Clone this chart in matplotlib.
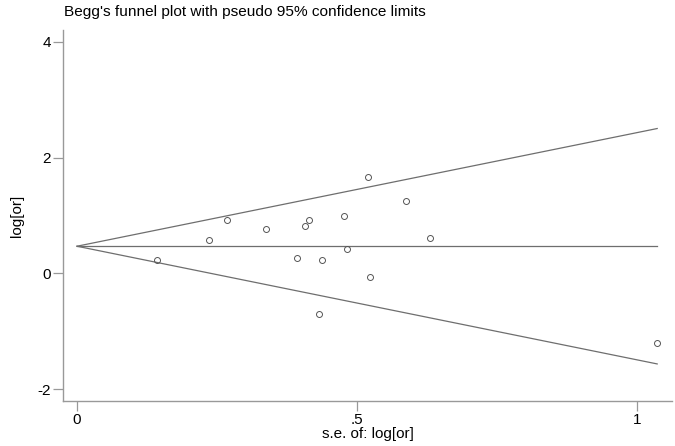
import matplotlib
matplotlib.use("Agg")
import matplotlib.pyplot as plt
import numpy as np

plt.rcParams['font.family'] = ['Liberation Sans', 'DejaVu Sans']
plt.rcParams['axes.unicode_minus'] = False

se = [0.143, 0.236, 0.268, 0.338, 0.392, 0.408, 0.414, 0.433, 0.437,
      0.477, 0.483, 0.520, 0.524, 0.5875, 0.630, 1.036]
logor = [0.23, 0.586, 0.931, 0.759, 0.264, 0.816, 0.92, -0.695, 0.241,
         0.983, 0.419, 1.667, -0.057, 1.253, 0.609, -1.207]
pooled = 0.47
xticks = [0, 0.5, 1]
xticklabels = ['0', '.5', '1']
yticks = [-2, 0, 2, 4]

fig = plt.figure(figsize=(6.75, 4.46), dpi=100)
ax = fig.add_axes([0.0933, 0.1009, 0.9023, 0.8318])

smax = max(se)
xs = np.array([0, smax])
lc = '#6e6e6e'
ax.plot(xs, [pooled, pooled], color=lc, lw=0.9)
ax.plot(xs, pooled + 1.96 * xs, color=lc, lw=0.9)
ax.plot(xs, pooled - 1.96 * xs, color=lc, lw=0.9)
ax.plot(se, logor, 'o', mfc='none', mec='#555555', mew=0.7, ms=4.3, ls='none')

ax.set_xlim(-0.025, 1.0625)
ax.set_ylim(-2.2, 4.2)
ax.set_xticks(xticks)
ax.set_xticklabels(xticklabels)
ax.set_yticks(yticks)
for s in ['top', 'right']:
    ax.spines[s].set_visible(False)
for s in ['left', 'bottom']:
    ax.spines[s].set_color('#999999')
    ax.spines[s].set_linewidth(1.0)
ax.tick_params(direction='out', length=7, width=0.9, color='#999999',
               labelsize=11, pad=1.5)
ax.set_xlabel('s.e. of: log[or]', fontsize=11, labelpad=0)
ax.set_ylabel('log[or]', fontsize=11, labelpad=10)
fig.text(0.0948, 0.973, "Begg's funnel plot with pseudo 95% confidence limits",
         fontsize=11.1, ha='left', va='center')

fig.savefig('out.png', dpi=100)
